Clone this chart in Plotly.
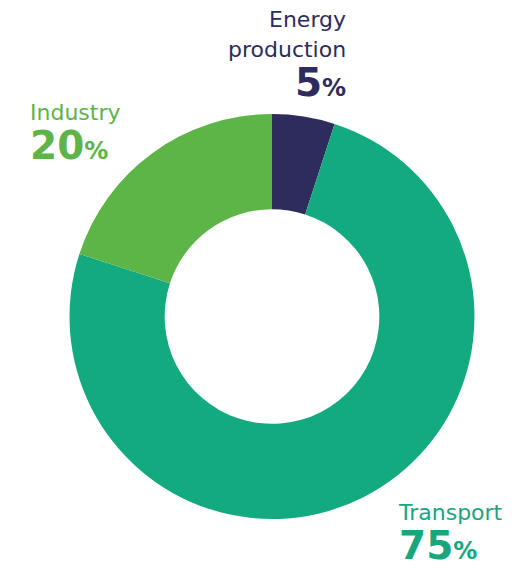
import plotly.graph_objects as go

categories = ["Energy production", "Transport", "Industry"]
values = [5, 75, 20]
colors = ["#2E2C5C", "#13AA80", "#5DB447"]
label_lines = [["Energy", "production"], ["Transport"], ["Industry"]]
value_text = ["5", "75", "20"]

W, H = 531, 569

fig = go.Figure(go.Pie(
    labels=categories, values=values, sort=False, direction="clockwise",
    rotation=0, hole=0.53, textinfo="none", hoverinfo="label+percent",
    marker=dict(colors=colors, line=dict(width=0)),
    domain=dict(x=[69 / W, 475 / W], y=[1 - 519 / H, 1 - 114 / H]),
    showlegend=False,
))

FONT = "DejaVu Sans"


def block(label, val, lab_size=22, num_size=39, pct_size=24):
    lab = f"<span style='font-size:{lab_size}px'>{label}</span>"
    num = (f"<b><span style='font-size:{num_size}px'>{val}</span>"
           f"<span style='font-size:{pct_size}px'>%</span></b>")
    return lab + "<br>" + num


anns = [
    # first line of the energy label on its own
    dict(x=347 / W, y=1 - 19.5 / H, text=label_lines[0][0],
         xanchor="right", yanchor="middle", align="right",
         font=dict(family=FONT, size=22, color=colors[0])),
    dict(x=347 / W, y=1 - 36 / H, text=block(label_lines[0][1], value_text[0]),
         xanchor="right", yanchor="top", align="right",
         font=dict(family=FONT, size=30, color=colors[0])),
    dict(x=29 / W, y=1 - 98.5 / H, text=block(label_lines[2][0], value_text[2]),
         xanchor="left", yanchor="top", align="left",
         font=dict(family=FONT, size=30, color=colors[2])),
    dict(x=397 / W, y=0, text=block(label_lines[1][0], value_text[1]),
         xanchor="left", yanchor="bottom", align="left",
         font=dict(family=FONT, size=30, color="#17A67E")),
]
for a in anns:
    a.update(xref="paper", yref="paper", showarrow=False, borderpad=0)

fig.update_layout(width=W, height=H, margin=dict(l=0, r=0, t=0, b=0),
                  paper_bgcolor="white", plot_bgcolor="white", annotations=anns)

fig.write_html("out.html")
